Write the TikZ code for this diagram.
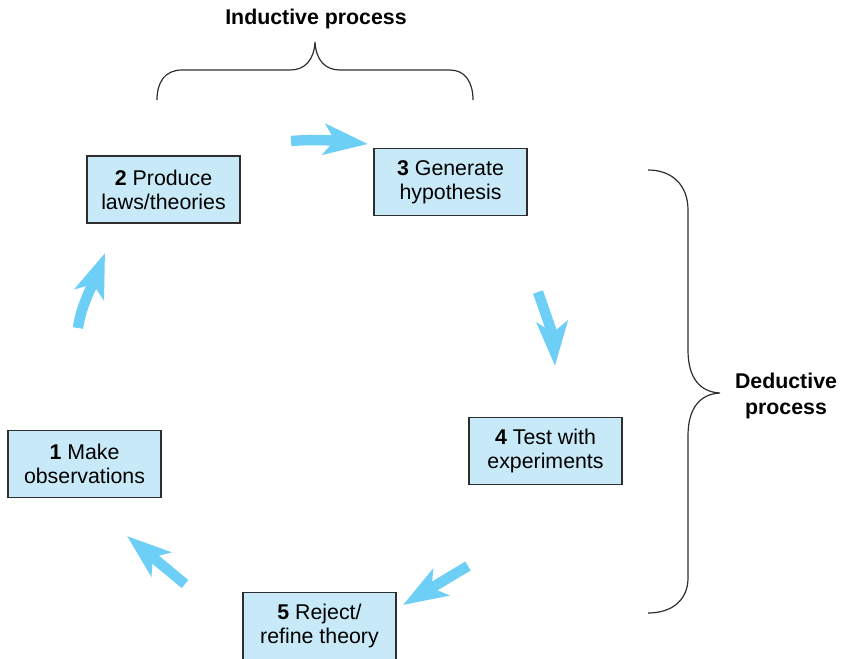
\documentclass[tikz,border=0pt]{standalone}
\usepackage{fontspec}
\setmainfont{Liberation Sans}
\usetikzlibrary{arrows.meta}
\definecolor{boxfill}{HTML}{C8EAF8}
\definecolor{flow}{HTML}{6DCFF6}
\definecolor{edge}{HTML}{2E2E2E}
\begin{document}
\begin{tikzpicture}[x=0.75pt,y=-0.75pt,
  stepbox/.style={draw=edge, line width=0.9pt, fill=boxfill,
    minimum width=114.75pt, minimum height=50.25pt, inner sep=0pt,
    align=center, font=\fontsize{16}{18}\selectfont},
  flowarrow/.style={draw=flow, line width=7.8pt,
    -{Stealth[length=33pt,width=23pt,inset=8pt]}},
  brace/.style={draw=edge, line width=0.9pt},
  caption/.style={font=\bfseries\fontsize{16}{19.5}\selectfont, align=center}]
\useasboundingbox (0,0) rectangle (843,658);
\clip (0,0) rectangle (843,658);

% the five steps of the cycle
\node[stepbox] (n2) at (163.5,189.5) {\textbf{2} Produce\\laws/theories};
\node[stepbox] (n3) at (450.5,182) {\textbf{3} Generate\\hypothesis};
\node[stepbox] (n4) at (545.5,451) {\textbf{4} Test with\\experiments};
\node[stepbox] (n1) at (84.5,464) {\textbf{1} Make\\observations};
\node[stepbox] (n5) at (319.5,626) {\textbf{5} Reject/\\refine theory};

% flow arrows between the steps
\coordinate (a12s) at (78,328);  \coordinate (a12e) at (105,253);
\coordinate (a23s) at (291,141); \coordinate (a23e) at (368,144);
\coordinate (a34s) at (538,292); \coordinate (a34e) at (555,366);
\coordinate (a45s) at (468,566); \coordinate (a45e) at (403,605);
\coordinate (a51s) at (185,584); \coordinate (a51e) at (127,536);
\draw[flowarrow] (a12s) .. controls (81,305) and (94,282) .. (a12e);
\draw[flowarrow] (a23s) .. controls (315,139) and (340,141) .. (a23e);
\draw[flowarrow] (a34s) .. controls (546,315) and (553,335) .. (a34e);
\draw[flowarrow] (a45s) -- (a45e);
\draw[flowarrow] (a51s) -- (a51e);

% inductive brace over steps 2 and 3
\draw[brace] (157,100) .. controls (157,82) and (165,70) .. (182,70)
  -- (290,70) .. controls (305,70) and (314,60) .. (315,42)
  .. controls (316,60) and (325,70) .. (340,70)
  -- (450,70) .. controls (465,70) and (473,82) .. (473,100);
\node[caption] (ind) at (316,18.5) {Inductive process};

% deductive brace beside steps 3 to 5
\draw[brace] (648,170) .. controls (672,170) and (688,185) .. (688,210)
  -- (688,350) .. controls (688,378) and (700,392) .. (720,393)
  .. controls (700,394) and (688,408) .. (688,436)
  -- (688,578) .. controls (688,600) and (672,613) .. (648,613);
\node[caption] (ded) at (786,395.5) {Deductive\\process};
\end{tikzpicture}
\end{document}
